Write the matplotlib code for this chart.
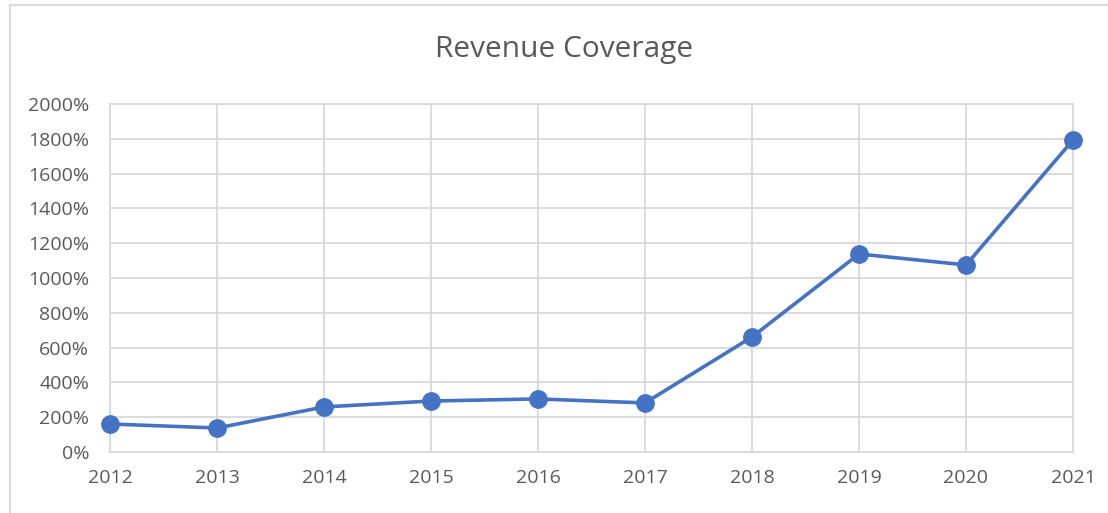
import matplotlib
matplotlib.use("Agg")
import matplotlib.pyplot as plt
from matplotlib.lines import Line2D
from matplotlib.ticker import FuncFormatter

years = [2012, 2013, 2014, 2015, 2016, 2017, 2018, 2019, 2020, 2021]
coverage = [161, 138, 259, 293, 305, 282, 661, 1138, 1075, 1793]  # percent
yticks = list(range(0, 2001, 200))

plt.rcParams['font.family'] = ['Open Sans', 'DejaVu Sans']

W, H = 1108, 513
fig = plt.figure(figsize=(W / 100, H / 100), dpi=100)
ax = fig.add_axes([110 / W, (H - 452) / H, 963 / W, 348 / H])

ax.plot(years, coverage, color='#4472C4', lw=2.6, marker='o', ms=12.5,
        solid_capstyle='round', zorder=3, clip_on=False)

ax.set_xlim(years[0], years[-1])
ax.set_ylim(0, 2000)
ax.set_xticks(years)
ax.set_yticks(yticks)
ax.yaxis.set_major_formatter(FuncFormatter(lambda v, p: f"{int(v)}%"))
ax.grid(True, color='#D9D9D9', lw=1.3)
ax.set_axisbelow(True)
for s in ax.spines.values():
    s.set_color('#D9D9D9')
    s.set_linewidth(1.3)
ax.tick_params(length=0, colors='#595959', labelsize=14)
ax.tick_params(axis='y', pad=15)
ax.tick_params(axis='x', pad=12)

fig.text(564 / W, 1 - 50 / H, 'Revenue Coverage', ha='center', va='center',
         fontsize=21.5, color='#595959')

# chart frame (left and top edges visible)
fig.add_artist(Line2D([10 / W, 10 / W], [0, 1 - 5 / H], color='#D9D9D9', lw=1.5))
fig.add_artist(Line2D([10 / W, 1], [1 - 5 / H, 1 - 5 / H], color='#D9D9D9', lw=1.5))

fig.savefig('out.png', dpi=100)
